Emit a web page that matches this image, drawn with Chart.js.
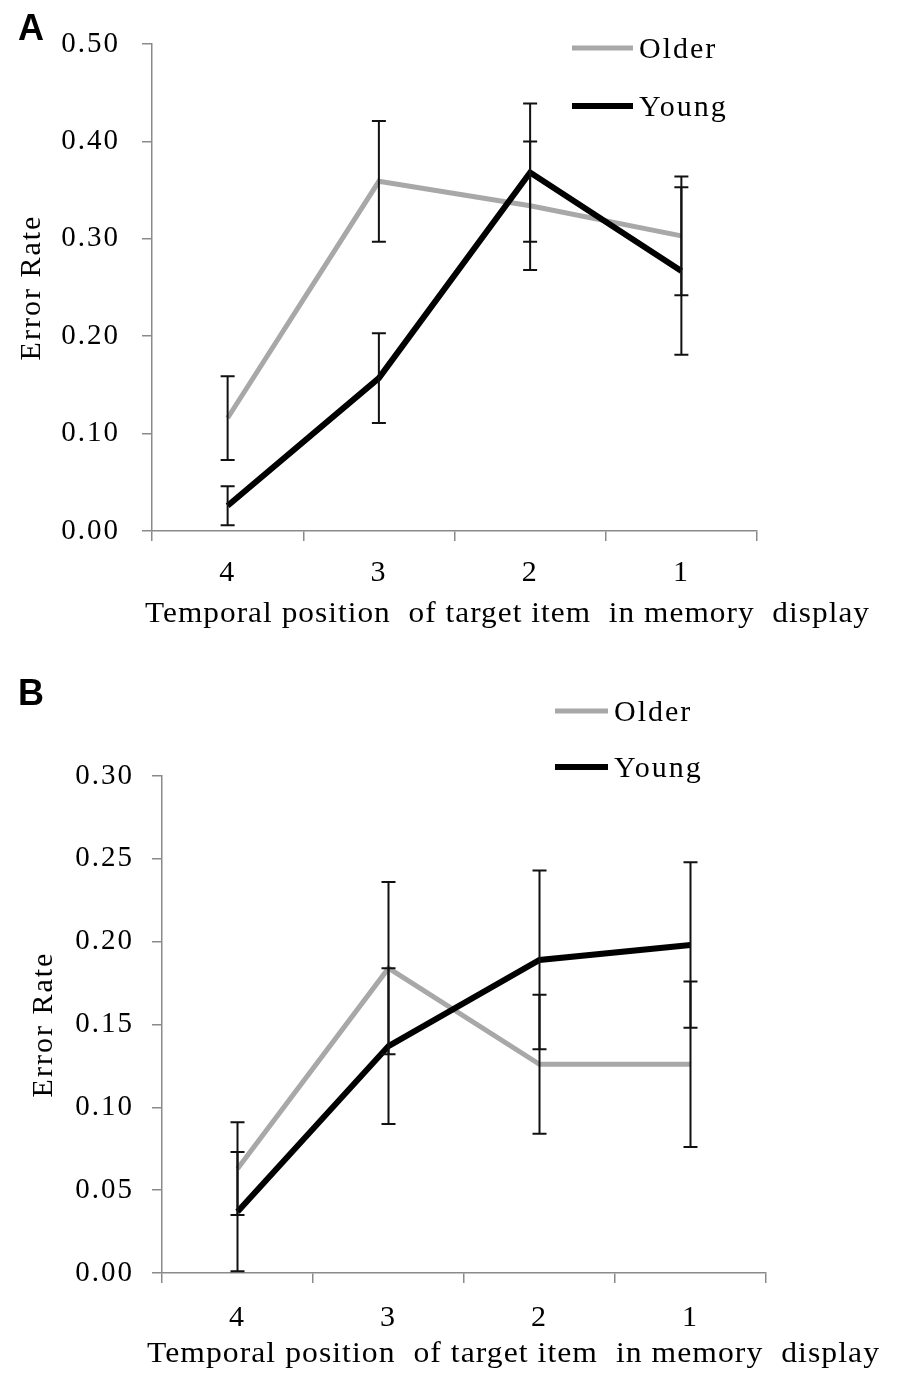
<!DOCTYPE html>
<html><head><meta charset="utf-8">
<script src="https://cdn.jsdelivr.net/npm/chart.js@4.4.1/dist/chart.umd.min.js"></script>
<style>
html,body{margin:0;padding:0;background:#fff;}
body{width:900px;height:1392px;position:relative;overflow:hidden;}
#wa{position:absolute;left:0;top:0;width:900px;height:660px;}
#wb{position:absolute;left:0;top:660px;width:900px;height:732px;}
canvas{display:block;}
</style></head><body>
<div id="wa"><canvas id="ca" width="900" height="660"></canvas></div>
<div id="wb"><canvas id="cb" width="900" height="732"></canvas></div>
<script>
// ---- data ----
const positions = ['4', '3', '2', '1'];
const seriesNames = ['Older', 'Young'];

const olderA = [0.116, 0.359, 0.334, 0.303];
const olderErrA = [0.043, 0.062, 0.066, 0.061];
const youngA = [0.026, 0.157, 0.368, 0.267];
const youngErrA = [0.020, 0.046, 0.071, 0.086];
const yTickValuesA = [0, 0.1, 0.2, 0.3, 0.4, 0.5];
const yTickLabelsA = ['0.00', '0.10', '0.20', '0.30', '0.40', '0.50'];

const olderB = [0.063, 0.184, 0.126, 0.126];
const olderErrB = [0.028, 0.052, 0.042, 0.050];
const youngB = [0.037, 0.137, 0.189, 0.198];
const youngErrB = [0.036, 0.047, 0.054, 0.050];
const yTickValuesB = [0, 0.05, 0.1, 0.15, 0.2, 0.25, 0.3];
const yTickLabelsB = ['0.00', '0.05', '0.10', '0.15', '0.20', '0.25', '0.30'];

const yTitle = 'Error Rate';
const xTitle = 'Temporal position  of target item  in memory  display';

// ---- styling ----
const SERIF = "'Liberation Serif', 'Times New Roman', serif";
const OLDER_COLOR = '#a8a8a8';
const YOUNG_COLOR = '#000000';
const AXIS_COLOR = '#8a8a8a';

const errorBars = {
  id: 'errorBars',
  afterDatasetsDraw(chart) {
    const ctx = chart.ctx, ys = chart.scales.y;
    chart.data.datasets.forEach((ds, di) => {
      const meta = chart.getDatasetMeta(di);
      meta.data.forEach((pt, i) => {
        const v = ds.data[i], e = ds.errors[i];
        const x = pt.x;
        const y1 = ys.getPixelForValue(v + e), y2 = ys.getPixelForValue(v - e);
        ctx.save();
        ctx.strokeStyle = '#111';
        ctx.lineWidth = 2;
        ctx.beginPath();
        ctx.moveTo(x, y1); ctx.lineTo(x, y2);
        ctx.moveTo(x - 7, y1); ctx.lineTo(x + 7, y1);
        ctx.moveTo(x - 7, y2); ctx.lineTo(x + 7, y2);
        ctx.stroke();
        ctx.restore();
      });
    });
  }
};

const spacing = {
  id: 'spacing',
  beforeDraw(chart) { chart.ctx.letterSpacing = '2px'; },
  afterDraw(chart) { chart.ctx.letterSpacing = '0px'; }
};

const deco = {
  id: 'deco',
  afterDraw(chart, args, o) {
    const ctx = chart.ctx;
    ctx.save();
    // panel letter
    ctx.letterSpacing = '0px';
    ctx.fillStyle = '#000';
    ctx.font = "bold 36px 'Liberation Sans', Arial, sans-serif";
    ctx.textAlign = 'left';
    ctx.textBaseline = 'alphabetic';
    ctx.fillText(o.letter, o.letterX, o.letterY);
    // legend
    chart.data.datasets.forEach((ds, i) => {
      const ly = o.legendY[i];
      ctx.strokeStyle = ds.borderColor;
      ctx.lineWidth = ds.borderWidth;
      ctx.lineCap = 'butt';
      ctx.beginPath();
      ctx.moveTo(o.legendX, ly);
      ctx.lineTo(o.legendX + o.legendLen, ly);
      ctx.stroke();
      ctx.fillStyle = '#000';
      ctx.font = '30px ' + SERIF;
      ctx.letterSpacing = '2px';
      ctx.textBaseline = 'middle';
      ctx.fillText(ds.label, o.legendX + o.legendLen + 6, ly + 2);
    });
    // x title, stretched to the target width
    ctx.font = '30px ' + SERIF;
    ctx.letterSpacing = '1px';
    ctx.textBaseline = 'alphabetic';
    const w = ctx.measureText(xTitle).width;
    const sx = o.titleW / w;
    ctx.translate(o.titleX, o.titleY);
    ctx.scale(sx, 1);
    ctx.textAlign = 'left';
    ctx.fillText(xTitle, 0, 0);
    ctx.restore();
  }
};

function makeChart(id, p) {
  const tickFont = { family: SERIF, size: 29 };
  return new Chart(document.getElementById(id), {
    type: 'line',
    data: {
      labels: positions,
      datasets: [
        { label: seriesNames[0], data: p.older, errors: p.olderErr, borderColor: OLDER_COLOR, borderWidth: 5, pointRadius: 0, tension: 0, order: 2 },
        { label: seriesNames[1], data: p.young, errors: p.youngErr, borderColor: YOUNG_COLOR, borderWidth: 6, pointRadius: 0, tension: 0, order: 1 }
      ]
    },
    options: {
      responsive: false,
      animation: false,
      devicePixelRatio: 1,
      layout: { padding: { left: 0, top: p.top, right: 900 - p.right, bottom: 0 } },
      plugins: {
        legend: { display: false },
        tooltip: { enabled: false },
        deco: p.deco
      },
      scales: {
        x: {
          type: 'category',
          offset: true,
          grid: { offset: true, drawOnChartArea: false, drawTicks: true, tickLength: 10, color: AXIS_COLOR, lineWidth: 1.5 },
          border: { display: true, color: AXIS_COLOR, width: 1.5 },
          ticks: { font: { family: SERIF, size: 30 }, color: '#000', padding: p.xpad, maxRotation: 0, autoSkip: false },
          afterFit(s) { s.height = p.h - p.bottom; }
        },
        y: {
          min: 0, max: p.max,
          afterBuildTicks(s) { s.ticks = p.tickValues.map(v => ({ value: v })); },
          grid: { drawOnChartArea: false, drawTicks: true, tickLength: 10, color: AXIS_COLOR, lineWidth: 1.5 },
          border: { display: true, color: AXIS_COLOR, width: 1.5 },
          ticks: { font: tickFont, color: '#000', padding: p.ypad, callback: (v, i) => p.tickLabels[i] },
          title: { display: true, text: yTitle, font: { family: SERIF, size: 30 }, color: '#000', padding: { top: p.tpad, bottom: 0 } },
          afterFit(s) { s.width = p.left; }
        }
      }
    },
    plugins: [spacing, errorBars, deco]
  });
}

makeChart('ca', {
  older: olderA, olderErr: olderErrA, young: youngA, youngErr: youngErrA,
  tickValues: yTickValuesA, tickLabels: yTickLabelsA, max: 0.5,
  top: 44, bottom: 531, left: 152, right: 757, h: 660,
  xpad: 14, ypad: 22, tpad: 14,
  deco: { letter: 'A', letterX: 18, letterY: 40, legendX: 572, legendLen: 61, legendY: [48, 106],
          titleX: 145, titleY: 622, titleW: 725 }
});

makeChart('cb', {
  older: olderB, olderErr: olderErrB, young: youngB, youngErr: youngErrB,
  tickValues: yTickValuesB, tickLabels: yTickLabelsB, max: 0.3,
  top: 116, bottom: 613, left: 162, right: 766, h: 732,
  xpad: 17, ypad: 18, tpad: 26,
  deco: { letter: 'B', letterX: 18, letterY: 45, legendX: 555, legendLen: 53, legendY: [51, 107],
          titleX: 147, titleY: 702, titleW: 733 }
});
</script>
</body></html>
